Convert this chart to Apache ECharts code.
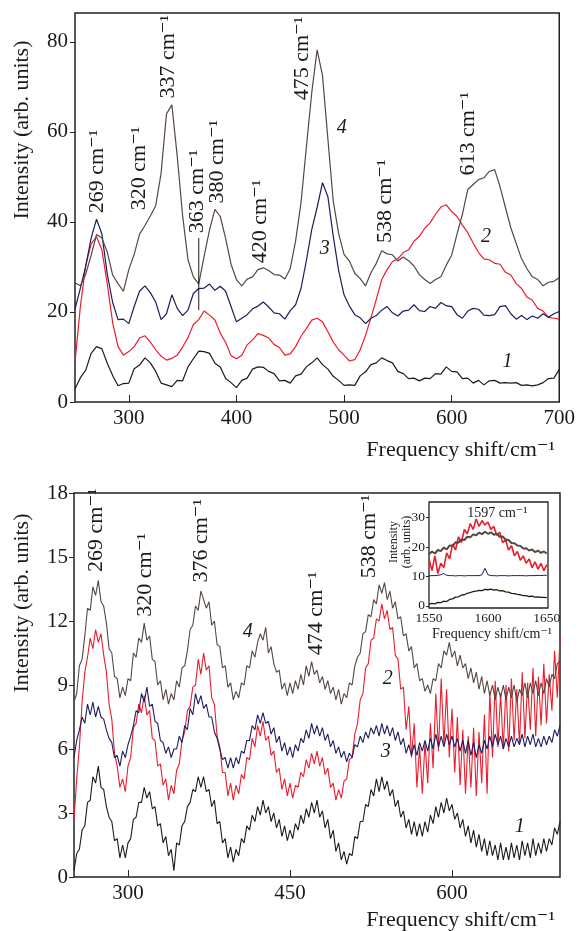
<!DOCTYPE html>
<html>
<head>
<meta charset="utf-8">
<title>Raman spectra</title>
<script src="https://cdn.jsdelivr.net/npm/echarts@6/dist/echarts.min.js"></script>
<style>
  html, body { margin: 0; padding: 0; background: #fff; }
  #main { width: 578px; height: 931px; }
</style>
</head>
<body>
<div id="main"></div>
<script>
// frequency shift grids, cm-1 (upper panel read every 5 cm-1, lower panel and inset every 2.5 cm-1)
var shift = [];
for (var s = 250; s <= 700; s += 5) { shift.push(s); }
var shiftFine = [];
for (var f = 250; f <= 700; f += 2.5) { shiftFine.push(f); }
var shiftInset = [];
for (var t = 1550; t <= 1650; t += 2.5) { shiftInset.push(t); }

// ---- upper panel
var top4 = [26.5, 25.8, 28.4, 32.6, 37.2, 36.4, 33.3, 28.2, 26.3, 24.6,
  29.4, 32.8, 37.3, 39.2, 41.3, 43.6, 50.8, 64.0, 66.0, 54.6,
  41.4, 31.6, 27.8, 26.2, 32.4, 38.2, 42.8, 41.2, 36.3, 30.6,
  27.2, 25.8, 27.3, 27.8, 29.4, 29.8, 29.2, 28.3, 28.2, 27.3,
  29.6, 35.8, 44.2, 56.6, 68.7, 78.2, 72.5, 58.4, 44.6, 37.4,
  32.8, 31.3, 28.6, 27.4, 25.8, 28.7, 30.8, 33.6, 32.9, 32.7,
  31.3, 32.2, 31.4, 30.2, 28.3, 27.2, 26.3, 27.2, 27.8, 30.4,
  32.6, 37.3, 41.7, 47.2, 48.3, 49.4, 49.8, 51.2, 51.6, 47.8,
  43.2, 38.7, 35.2, 31.8, 29.6, 27.8, 27.2, 25.8, 26.6, 26.8, 27.6];
var top3 = [20.6, 25.3, 30.2, 36.4, 40.6, 37.3, 28.4, 22.1, 18.3, 18.4,
  17.4, 21.2, 24.6, 25.8, 24.3, 22.2, 18.3, 19.6, 23.8, 20.8,
  19.2, 20.4, 24.1, 25.2, 25.3, 26.2, 24.8, 25.7, 24.6, 21.2,
  17.8, 18.6, 19.4, 20.7, 21.3, 22.2, 21.1, 19.8, 19.6, 18.4,
  20.3, 21.6, 25.2, 31.4, 38.3, 43.2, 48.7, 45.6, 36.8, 29.2,
  23.8, 21.3, 19.4, 18.7, 17.4, 18.6, 19.2, 20.4, 21.2, 19.8,
  19.1, 20.2, 20.4, 21.6, 20.3, 20.1, 21.2, 20.8, 22.1, 21.4,
  21.2, 19.4, 18.6, 20.2, 20.8, 20.6, 19.3, 19.2, 19.4, 21.2,
  21.4, 19.6, 18.4, 19.2, 18.3, 19.1, 18.6, 19.6, 18.8, 19.6, 20.1];
var top2 = [8.8, 21.2, 30.4, 35.1, 36.7, 33.8, 26.2, 17.6, 12.3, 10.4,
  11.2, 12.3, 14.2, 14.7, 13.3, 11.6, 10.2, 9.3, 9.7, 10.4,
  12.2, 14.3, 17.2, 18.3, 20.2, 19.3, 18.2, 15.3, 13.2, 10.3,
  9.6, 10.4, 12.7, 13.8, 15.2, 14.8, 14.2, 12.8, 12.1, 10.4,
  10.7, 12.3, 14.6, 16.3, 18.2, 18.6, 17.8, 15.6, 13.3, 11.6,
  10.4, 9.1, 9.4, 11.6, 14.8, 18.7, 22.8, 27.2, 29.4, 31.2,
  31.8, 33.2, 33.8, 35.7, 36.8, 38.6, 39.8, 41.7, 43.3, 43.8,
  42.3, 41.2, 39.3, 37.6, 35.3, 33.2, 31.8, 31.6, 30.8, 30.6,
  28.8, 28.2, 26.3, 25.2, 23.3, 22.6, 20.8, 20.2, 18.8, 18.6, 18.4];
var top1 = [2.9, 5.4, 7.1, 10.8, 12.3, 11.8, 8.6, 5.9, 3.6, 4.1,
  4.2, 7.4, 8.2, 9.8, 8.7, 6.8, 4.2, 3.8, 3.4, 4.8,
  4.7, 7.8, 9.6, 11.3, 11.2, 10.8, 8.6, 7.8, 5.2, 4.3,
  3.2, 4.8, 5.3, 7.3, 7.8, 7.7, 6.8, 6.3, 4.7, 4.8,
  4.2, 5.8, 6.2, 7.8, 8.7, 9.8, 8.3, 7.3, 5.7, 4.8,
  3.7, 3.8, 3.7, 5.8, 6.7, 8.3, 8.7, 9.8, 9.2, 8.7,
  6.8, 6.3, 5.2, 5.3, 4.7, 5.3, 5.2, 6.3, 6.2, 7.8,
  6.8, 6.7, 5.2, 5.3, 4.2, 4.8, 3.8, 4.7, 4.8, 4.2,
  4.3, 4.2, 4.3, 3.7, 3.8, 3.6, 3.8, 4.3, 5.2, 5.3, 7.2];

// ---- lower panel (2.5 cm-1 steps, one row = 25 cm-1)
var bot4 = [8.2, 8.6, 9.9, 10.2, 11.3, 12.6, 12.5, 13.6, 13.2, 13.9,
  12.9, 12.7, 11.9, 10.7, 10.5, 9.4, 9.3, 8.4, 8.9, 8.5,
  9.3, 9.2, 10.5, 10.3, 11.2, 11.0, 11.9, 11.1, 11.3, 10.2,
  10.1, 9.0, 9.2, 8.3, 8.8, 8.1, 8.6, 8.3, 9.2, 8.9,
  9.8, 9.9, 10.6, 11.6, 11.8, 12.7, 12.5, 13.4, 13.0, 12.6,
  12.9, 11.8, 12.0, 10.9, 10.8, 9.8, 9.9, 8.9, 9.1, 8.3,
  8.7, 8.4, 9.1, 9.0, 9.9, 9.8, 10.6, 10.3, 11.0, 11.4,
  11.1, 11.7, 10.5, 10.8, 10.0, 9.6, 9.7, 8.8, 9.1, 8.5,
  9.1, 8.6, 9.2, 8.8, 9.5, 9.0, 9.9, 9.4, 10.1, 9.5,
  9.7, 9.1, 9.4, 8.8, 9.2, 8.6, 8.9, 8.3, 8.8, 8.1,
  8.6, 8.4, 9.1, 9.0, 9.9, 10.3, 10.5, 11.4, 11.5, 12.3,
  12.2, 13.0, 12.8, 13.7, 13.3, 13.8, 13.0, 13.4, 12.6, 12.9,
  12.1, 12.2, 11.3, 11.4, 10.6, 10.8, 9.8, 10.0, 9.2, 9.3,
  8.7, 9.0, 8.6, 9.3, 9.2, 10.0, 9.8, 10.6, 10.4, 11.0,
  10.3, 10.6, 9.9, 10.4, 9.8, 10.0, 9.3, 9.8, 9.1, 9.6,
  8.8, 9.4, 8.6, 9.2, 8.5, 9.0, 8.3, 8.9, 8.4, 9.0,
  8.3, 8.9, 8.4, 9.0, 8.2, 8.8, 8.5, 9.1, 8.4, 9.1,
  8.6, 9.2, 8.5, 9.1, 8.6, 9.3, 8.9, 9.5, 9.3, 10.0, 10.1];
var bot2 = [2.7, 4.6, 6.1, 8.2, 9.6, 10.3, 11.2, 10.7, 11.6, 11.0,
  11.4, 10.4, 9.6, 8.1, 7.4, 5.8, 5.2, 4.2, 4.6, 4.0,
  5.2, 5.6, 7.0, 7.2, 8.1, 7.7, 8.5, 7.6, 7.8, 6.5,
  6.4, 5.2, 5.3, 4.3, 4.6, 3.6, 4.3, 3.9, 5.0, 5.3,
  6.4, 6.8, 7.8, 8.0, 8.9, 9.0, 10.2, 9.5, 10.5, 9.7,
  9.9, 8.4, 8.1, 6.6, 6.1, 4.9, 4.9, 3.8, 4.4, 3.6,
  4.3, 3.9, 4.8, 4.6, 5.6, 5.5, 6.5, 6.1, 7.1, 6.6,
  7.3, 6.4, 6.6, 5.7, 5.9, 4.9, 5.1, 4.1, 4.6, 3.8,
  4.4, 3.7, 4.3, 4.2, 4.9, 4.7, 5.5, 5.1, 5.8, 5.3,
  5.9, 5.2, 5.6, 4.8, 5.1, 4.2, 4.4, 3.6, 4.1, 3.7,
  4.5, 4.6, 5.5, 5.6, 6.7, 7.2, 8.3, 8.6, 9.8, 10.0,
  11.1, 11.2, 12.1, 12.0, 12.8, 12.1, 12.5, 11.6, 11.7, 10.4,
  10.2, 8.8, 8.9, 6.9, 8.0, 5.6, 7.2, 4.2, 6.1, 3.9,
  6.3, 4.4, 7.2, 5.1, 8.6, 5.9, 9.3, 6.2, 8.8, 5.6,
  7.9, 4.9, 7.5, 4.3, 6.9, 3.9, 6.6, 4.2, 7.0, 3.8,
  6.8, 4.4, 7.6, 3.9, 8.7, 5.6, 9.2, 6.1, 8.6, 6.0,
  9.0, 5.9, 9.3, 6.4, 8.8, 6.2, 9.6, 6.5, 9.1, 6.9,
  9.8, 6.6, 9.4, 7.1, 10.0, 7.2, 9.5, 7.8, 10.6, 8.4, 11.2];
var bot3 = [5.6, 6.4, 6.9, 7.5, 7.2, 8.1, 7.6, 8.2, 7.5, 8.0,
  7.5, 7.4, 6.9, 6.5, 6.3, 5.6, 5.7, 5.2, 5.9, 5.6,
  6.2, 6.6, 7.1, 7.8, 7.7, 8.6, 8.2, 8.9, 8.0, 8.1,
  7.3, 7.2, 6.4, 6.3, 5.8, 6.1, 5.6, 6.0, 6.0, 6.6,
  6.3, 7.1, 6.9, 7.9, 7.6, 8.6, 8.1, 8.5, 7.9, 8.1,
  7.5, 7.5, 6.8, 6.5, 6.0, 5.5, 5.6, 5.1, 5.6, 5.1,
  5.6, 5.3, 5.9, 5.8, 6.4, 6.4, 7.1, 6.9, 7.6, 7.2,
  7.7, 7.2, 7.3, 6.7, 7.0, 6.3, 6.6, 5.9, 6.3, 5.7,
  6.1, 5.6, 6.2, 5.9, 6.5, 6.3, 6.9, 6.5, 7.2, 6.7,
  7.1, 6.6, 7.0, 6.4, 6.7, 6.1, 6.4, 5.8, 6.1, 5.6,
  5.9, 5.4, 5.8, 5.6, 6.2, 6.1, 6.6, 6.3, 6.8, 6.5,
  7.0, 6.7, 7.1, 6.6, 7.2, 6.7, 7.1, 6.6, 7.0, 6.4,
  6.8, 6.2, 6.5, 5.8, 6.2, 5.7, 6.2, 5.7, 6.3, 5.9,
  6.4, 5.9, 6.5, 6.0, 6.7, 6.1, 6.6, 6.1, 6.7, 6.2,
  6.6, 6.1, 6.5, 5.9, 6.4, 5.8, 6.4, 5.7, 6.3, 5.6,
  6.2, 5.8, 6.4, 6.0, 6.6, 6.1, 6.7, 6.2, 6.6, 6.0,
  6.5, 6.1, 6.6, 6.1, 6.5, 6.2, 6.7, 6.1, 6.6, 6.2,
  6.7, 6.1, 6.5, 6.1, 6.6, 6.2, 6.6, 6.3, 6.9, 6.6, 7.1];
var bot1 = [0.3, 1.1, 1.3, 2.2, 2.4, 3.5, 3.6, 4.7, 4.4, 5.2,
  4.2, 4.1, 3.3, 2.8, 2.6, 1.7, 1.8, 0.9, 1.5, 0.9,
  1.6, 1.8, 2.7, 2.8, 3.5, 3.5, 4.2, 3.7, 4.0, 3.2,
  3.3, 2.4, 2.5, 1.6, 1.9, 1.0, 1.3, 0.3, 1.6, 1.5,
  2.4, 2.6, 3.3, 3.5, 4.1, 4.0, 4.7, 4.2, 4.7, 4.0,
  4.1, 3.3, 3.6, 2.5, 2.6, 1.6, 1.8, 0.9, 1.4, 0.7,
  1.3, 1.0, 1.8, 1.6, 2.4, 2.2, 2.9, 2.6, 3.3, 2.9,
  3.6, 3.0, 3.3, 2.6, 3.0, 2.3, 2.7, 1.9, 2.4, 1.7,
  2.2, 1.8, 2.5, 2.2, 2.9, 2.5, 3.2, 2.8, 3.5, 3.0,
  3.6, 2.8, 3.1, 2.3, 2.7, 1.8, 2.2, 1.2, 1.6, 0.8,
  1.2, 0.6, 1.1, 1.0, 1.9, 1.8, 2.6, 2.6, 3.4, 3.3,
  4.1, 3.8, 4.6, 4.0, 4.7, 4.1, 4.5, 3.8, 4.1, 3.3,
  3.6, 2.8, 3.1, 2.3, 2.7, 2.0, 2.6, 1.9, 2.5, 1.9,
  2.6, 2.1, 2.9, 2.5, 3.3, 2.8, 3.5, 3.0, 3.7, 3.1,
  3.4, 2.7, 3.0, 2.3, 2.7, 1.9, 2.4, 1.6, 2.2, 1.4,
  2.0, 1.2, 1.8, 1.0, 1.7, 1.0, 1.5, 0.8, 1.6, 0.8,
  1.4, 0.8, 1.6, 0.9, 1.5, 0.8, 1.7, 1.0, 1.6, 0.9,
  1.8, 1.0, 1.6, 1.1, 1.8, 1.2, 1.8, 1.5, 2.3, 2.0, 2.6];

// ---- inset, 1550-1650 cm-1
var ins4 = [17.5, 18.5, 17.8, 19.0, 18.6, 19.8, 19.2, 20.5, 20.4, 21.6,
  21.5, 22.6, 22.4, 23.5, 23.3, 24.3, 24.0, 24.9, 24.4, 25.2,
  24.5, 25.0, 24.2, 24.5, 23.5, 23.6, 22.6, 22.4, 21.4, 21.3,
  20.5, 20.4, 19.5, 19.6, 18.8, 19.2, 18.3, 18.8, 18.0, 18.5, 17.8];
var ins2 = [16.0, 12.0, 17.0, 11.0, 14.5, 13.0, 18.0, 16.0, 21.0, 19.0,
  23.5, 21.5, 26.0, 24.5, 28.0, 26.0, 29.5, 27.0, 29.0, 27.5,
  28.5, 26.0, 27.0, 24.0, 25.0, 21.5, 22.5, 19.0, 20.5, 17.0,
  18.5, 15.5, 17.0, 14.5, 16.0, 13.0, 15.0, 12.5, 14.5, 12.0, 14.0];
var ins3 = [10.2, 10.3, 10.3, 10.4, 10.6, 11.0, 10.4, 10.3, 10.3, 10.2,
  10.3, 10.3, 10.2, 10.3, 10.3, 10.3, 10.3, 10.3, 10.6, 12.8,
  10.6, 10.3, 10.3, 10.2, 10.3, 10.3, 10.3, 10.2, 10.3, 10.3,
  10.3, 10.3, 10.3, 10.2, 10.3, 10.3, 10.3, 10.4, 10.3, 10.4, 10.4];
var ins1 = [0.6, 0.9, 0.7, 1.2, 1.1, 1.6, 1.5, 2.2, 2.4, 3.0,
  3.1, 3.7, 3.8, 4.3, 4.5, 4.9, 5.0, 5.3, 5.2, 5.6,
  5.5, 5.7, 5.4, 5.5, 5.1, 5.2, 4.8, 4.7, 4.3, 4.2,
  3.9, 3.8, 3.5, 3.5, 3.2, 3.3, 3.0, 3.1, 2.9, 2.9, 2.8];

// tick labels
var topXTicks = [300, 400, 500, 600, 700];
var topYTicks = [0, 20, 40, 60, 80];
var botXTicks = [300, 450, 600];
var botYTicks = [0, 3, 6, 9, 12, 15, 18];
var insXTicks = [1550, 1600, 1650];
var insYTicks = [0, 10, 20, 30];

// peak labels: [shift, intensity at label foot, text]
var topPeaks = [[270.4, 41.9, '269 cm⁻¹'], [309.4, 42.6, '320 cm⁻¹'], [336.3, 67.4, '337 cm⁻¹'],
  [364, 37.5, '363 cm⁻¹'], [381.8, 44.1, '380 cm⁻¹'], [421.7, 30.8, '420 cm⁻¹'],
  [460.7, 67, '475 cm⁻¹'], [538.6, 35.3, '538 cm⁻¹'], [615.7, 50.3, '613 cm⁻¹']];
var botPeaks = [[271, 14.3, '269 cm⁻¹'], [315.5, 12.2, '320 cm⁻¹'], [368.2, 13.8, '376 cm⁻¹'],
  [474.7, 10.4, '474 cm⁻¹'], [523.8, 14, '538 cm⁻¹']];
var topNums = [[497.8, 61, '4'], [482, 34, '3'], [632, 36.6, '2'], [652, 8.9, '1']];
var botNums = [[410.8, 11.5, '4'], [540.5, 9.3, '2'], [538.6, 5.85, '3'], [662.7, 2.34, '1']];
var insPeak = [[1608, 31.5, '1597 cm⁻¹']];
var line363 = [[365, 20.4], [365, 36.4]];

var FONT = '"Liberation Serif", "DejaVu Serif", serif';
var C1 = '#1b1b1b', C2 = '#ec1c2c', C3 = '#1d1d5e', C4 = '#564840';

function pairs(xs, ys) {
    return xs.map(function (x, i) { return [x, ys[i]]; });
}
function curve(name, xs, ys, color, idx, width) {
    return {
        name: name, type: 'line', xAxisIndex: idx, yAxisIndex: idx,
        data: pairs(xs, ys), showSymbol: false, silent: true,
        lineStyle: { color: color, width: width }
    };
}
function textLayer(idx, items, rot, size, italic) {
    return {
        type: 'scatter', xAxisIndex: idx, yAxisIndex: idx, silent: true,
        symbolSize: 1, itemStyle: { color: 'rgba(0,0,0,0)', opacity: 1 }, z: 5,
        data: items.map(function (p) { return { value: [p[0], p[1]], name: p[2] }; }),
        label: {
            show: true, position: 'inside', rotate: rot,
            align: rot ? 'left' : 'center', verticalAlign: 'middle',
            formatter: function (p) { return p.name; },
            color: '#1a1a1a', opacity: 1, textBorderWidth: 0,
            fontFamily: FONT, fontSize: size,
            fontStyle: italic ? 'italic' : 'normal'
        },
        labelLayout: { hideOverlap: false }
    };
}
function plain(v) { return String(v); }
function xAxisOf(idx, min, max, ticks, size, margin) {
    return {
        type: 'value', gridIndex: idx, min: min, max: max,
        axisLine: { show: false }, splitLine: { show: false },
        axisTick: { inside: true, length: idx === 2 ? 4 : 7, customValues: ticks, lineStyle: { color: '#222' } },
        axisLabel: { customValues: ticks, formatter: plain, color: '#1a1a1a', fontFamily: FONT, fontSize: size, margin: margin }
    };
}
function yAxisOf(idx, min, max, ticks, size, margin) {
    return {
        type: 'value', gridIndex: idx, min: min, max: max,
        axisLine: { show: false }, splitLine: { show: false },
        axisTick: { inside: false, length: idx === 2 ? 3 : 5, customValues: ticks, lineStyle: { color: '#222' } },
        axisLabel: { customValues: ticks, formatter: plain, color: '#1a1a1a', fontFamily: FONT, fontSize: size, margin: margin }
    };
}

var myChart = echarts.init(document.getElementById('main'), null, { renderer: 'canvas' });
var option = {
    animation: false,
    backgroundColor: '#fff',
    grid: [
        { left: 75, top: 13, width: 485, height: 389, show: true, borderColor: '#222', borderWidth: 1.5 },
        { left: 74, top: 493, width: 486, height: 384, show: true, borderColor: '#222', borderWidth: 1.5 },
        { left: 429, top: 502, width: 119, height: 106, show: true, borderColor: '#222', borderWidth: 1.3, backgroundColor: '#fff', z: 3 }
    ],
    xAxis: [
        xAxisOf(0, 250, 700, topXTicks, 21, 6),
        xAxisOf(1, 250, 700, botXTicks, 21, 6),
        xAxisOf(2, 1550, 1651, insXTicks, 13.5, 3)
    ],
    yAxis: [
        yAxisOf(0, 0, 86.4, topYTicks, 21, 7),
        yAxisOf(1, 0, 18, botYTicks, 21, 6),
        yAxisOf(2, -0.7, 35.3, insYTicks, 13.5, 4)
    ],
    graphic: [
        { type: 'text', x: 22, y: 130, rotation: Math.PI / 2,
          style: { text: 'Intensity (arb. units)', fontFamily: FONT, fontSize: 22, fill: '#1a1a1a', align: 'center', verticalAlign: 'middle' } },
        { type: 'text', x: 22, y: 603, rotation: Math.PI / 2,
          style: { text: 'Intensity (arb. units)', fontFamily: FONT, fontSize: 22, fill: '#1a1a1a', align: 'center', verticalAlign: 'middle' } },
        { type: 'text', x: 555, y: 450,
          style: { text: 'Frequency shift/cm⁻¹', fontFamily: FONT, fontSize: 22, fill: '#1a1a1a', align: 'right', verticalAlign: 'middle' } },
        { type: 'text', x: 555, y: 920,
          style: { text: 'Frequency shift/cm⁻¹', fontFamily: FONT, fontSize: 22, fill: '#1a1a1a', align: 'right', verticalAlign: 'middle' } },
        { type: 'text', x: 492, y: 634, z: 10,
          style: { text: 'Frequency shift/cm⁻¹', fontFamily: FONT, fontSize: 14, fill: '#1a1a1a', align: 'center', verticalAlign: 'middle' } },
        { type: 'text', x: 400, y: 542, rotation: Math.PI / 2, z: 10,
          style: { text: 'Intensity\n(arb. units)', fontFamily: FONT, fontSize: 12, lineHeight: 13, fill: '#1a1a1a', align: 'center', verticalAlign: 'middle' } }
    ],
    series: [
        curve('1', shift, top1, C1, 0, 1.2),
        curve('2', shift, top2, C2, 0, 1.2),
        curve('3', shift, top3, C3, 0, 1.2),
        curve('4', shift, top4, C4, 0, 1.2),
        curve('1', shiftFine, bot1, C1, 1, 1.1),
        curve('2', shiftFine, bot2, C2, 1, 1.1),
        curve('3', shiftFine, bot3, C3, 1, 1.1),
        curve('4', shiftFine, bot4, C4, 1, 1.1),
        {
            type: 'line', xAxisIndex: 0, yAxisIndex: 0, data: line363, showSymbol: false,
            silent: true, lineStyle: { color: '#1a1a1a', width: 1 }
        },
        textLayer(0, topPeaks, 90, 22, false),
        textLayer(0, topNums, 0, 20, true),
        textLayer(1, botPeaks, 90, 22, false),
        textLayer(1, botNums, 0, 20, true),
        curve('ins1', shiftInset, ins1, C1, 2, 1.3),
        curve('ins2', shiftInset, ins2, C2, 2, 1.6),
        curve('ins4', shiftInset, ins4, C4, 2, 2),
        curve('ins3', shiftInset, ins3, C3, 2, 1),
        textLayer(2, insPeak, 0, 14, false)
    ]
};
myChart.setOption(option);
</script>
</body>
</html>
